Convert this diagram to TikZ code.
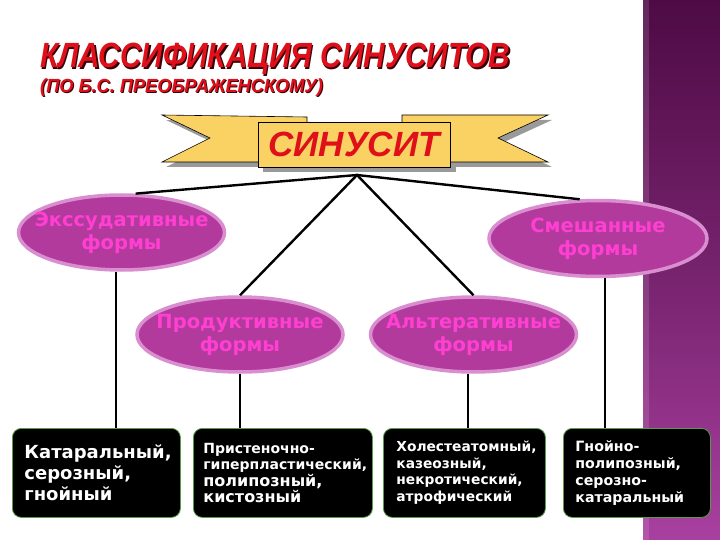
\documentclass[tikz,border=0pt]{standalone}
\usepackage{fontspec}
\setmainfont{DejaVu Sans}
\newfontfamily\titlefont{Liberation Sans}
\usetikzlibrary{shapes.geometric}
\definecolor{bandtop}{HTML}{4E0B45}
\definecolor{bandbot}{HTML}{A8409F}
\definecolor{ellfill}{HTML}{B23A9C}
\definecolor{ellborder}{HTML}{D98FCF}
\definecolor{elltext}{HTML}{FF3FD2}
\definecolor{ribfill}{HTML}{FAD264}
\definecolor{ribshadow}{HTML}{9A9A9A}
\definecolor{titlered}{HTML}{E0101A}
\definecolor{titleshadow}{HTML}{3A0008}
\definecolor{boxedge}{HTML}{5A9A4A}
\newcommand{\elline}[1]{\makebox[110pt][c]{#1}}
\tikzset{
  formell/.style={ellipse, fill=ellfill, draw=ellborder, line width=3.5pt, inner sep=0pt,
    minimum width=206pt, minimum height=75pt, text=elltext, align=center,
    font=\bfseries\fontsize{19.5}{23}\selectfont},
  kindbox/.style={rectangle, rounded corners=9pt, fill=black, draw=boxedge, line width=0.8pt,
    text=white, align=left, minimum height=89pt, inner ysep=0pt},
  conn/.style={draw=black, line width=2.4pt},
  ribbon/.style={fill=ribfill, draw=black, line width=0.6pt},
  ribshade/.style={fill=ribshadow}
}
\begin{document}
\begin{tikzpicture}[x=1pt,y=-1pt]
\useasboundingbox (0,0) rectangle (720,540);
\fill[white] (0,0) rectangle (720,540);
% right band
\shade[top color=bandtop, bottom color=bandbot, middle color=bandtop!55!bandbot] (643,0) rectangle (720,540);
\fill[white, opacity=0.12] (643,0) rectangle (649,540);
% title
\node[anchor=base west, inner sep=0pt, text=titleshadow, xscale=0.85,
  font=\titlefont\bfseries\itshape\fontsize{35}{35}\selectfont] (tshadow) at (41.2,69.2) {КЛАССИФИКАЦИЯ СИНУСИТОВ};
\node[anchor=base west, inner sep=0pt, text=titlered, xscale=0.85,
  font=\titlefont\bfseries\itshape\fontsize{35}{35}\selectfont] (title) at (40,68) {КЛАССИФИКАЦИЯ СИНУСИТОВ};
\node[anchor=base west, inner sep=0pt, text=titleshadow, xscale=0.96,
  font=\titlefont\bfseries\itshape\fontsize{19}{19}\selectfont] (sshadow) at (41,94) {(ПО Б.С. ПРЕОБРАЖЕНСКОМУ)};
\node[anchor=base west, inner sep=0pt, text=titlered, xscale=0.96,
  font=\titlefont\bfseries\itshape\fontsize{19}{19}\selectfont] (subtitle) at (40,93) {(ПО Б.С. ПРЕОБРАЖЕНСКОМУ)};
% ribbon shadows
\fill[ribshade] (166,120) -- (311,122) -- (311,167) -- (166,167) -- (214,143) -- cycle;
\fill[ribshade] (552,120) -- (406,120) -- (406,167) -- (552,167) -- (502,143) -- cycle;
\fill[ribshade] (263,127) rectangle (456,172);
% ribbon tails
\path[ribbon] (162,115) -- (307,117) -- (307,162) -- (162,162) -- (210,138) -- cycle;
\path[ribbon] (548,115) -- (402,115) -- (402,162) -- (548,162) -- (498,138) -- cycle;
% centre box
\node[ribbon, rectangle, minimum width=192pt, minimum height=45pt, inner sep=0pt,
  text=titlered, font=\titlefont\bfseries\itshape\fontsize{35}{35}\selectfont] (sin) at (354,144.5) {СИНУСИТ};
\coordinate (hub) at (357,175);
% ellipses
\node[formell] (ex) at (121.5,232.5) {\elline{Экссудативные}\\\elline{формы}};
\node[formell] (prod) at (240,334.5) {\elline{Продуктивные}\\\elline{формы}};
\node[formell, minimum width=218pt, minimum height=76pt] (mix) at (598,238.5) {\elline{Смешанные}\\\elline{формы}};
\node[formell] (alt) at (473.5,334.5) {\elline{Альтеративные}\\\elline{формы}};
% connectors from hub
\draw[conn] (ex.70) -- (hub) -- (mix.115);
\draw[conn] (prod.north) -- (hub) -- (alt.north);
% boxes
\node[kindbox, anchor=north west, text width=144pt, inner xsep=12pt,
  font=\bfseries\fontsize{18}{21}\selectfont] (b1) at (12,428) {Катаральный,\\серозный,\\гнойный};
\node[kindbox, anchor=north west, text width=159pt, inner xsep=10pt,
  font=\bfseries\fontsize{14}{16.5}\selectfont] (b2) at (193,428)
  {Пристеночно-\\гиперпластический,\\{\fontsize{16}{16.5}\selectfont полипозный,}\\{\fontsize{16}{16.5}\selectfont кистозный}};
\node[kindbox, anchor=north west, text width=136pt, inner xsep=13pt,
  font=\bfseries\fontsize{13.8}{16.5}\selectfont] (b3) at (383,428)
  {Холестеатомный,\\казеозный,\\некротический,\\атрофический};
\node[kindbox, anchor=north west, text width=123pt, inner xsep=12pt,
  font=\bfseries\fontsize{14.2}{17}\selectfont] (b4) at (563,428)
  {Гнойно-\\полипозный,\\серозно-\\катаральный};
% vertical connectors
\draw[conn, line width=2pt] ([xshift=-6pt]ex.south) -- ([xshift=-6pt]ex.south |- b1.north);
\draw[conn, line width=2pt] (prod.south) -- (prod.south |- b2.north);
\draw[conn, line width=2pt] ([xshift=-6pt]alt.south) -- ([xshift=-6pt]alt.south |- b3.north);
\draw[conn, line width=2pt] ([xshift=7pt]mix.south) -- ([xshift=7pt]mix.south |- b4.north);
\end{tikzpicture}
\end{document}
